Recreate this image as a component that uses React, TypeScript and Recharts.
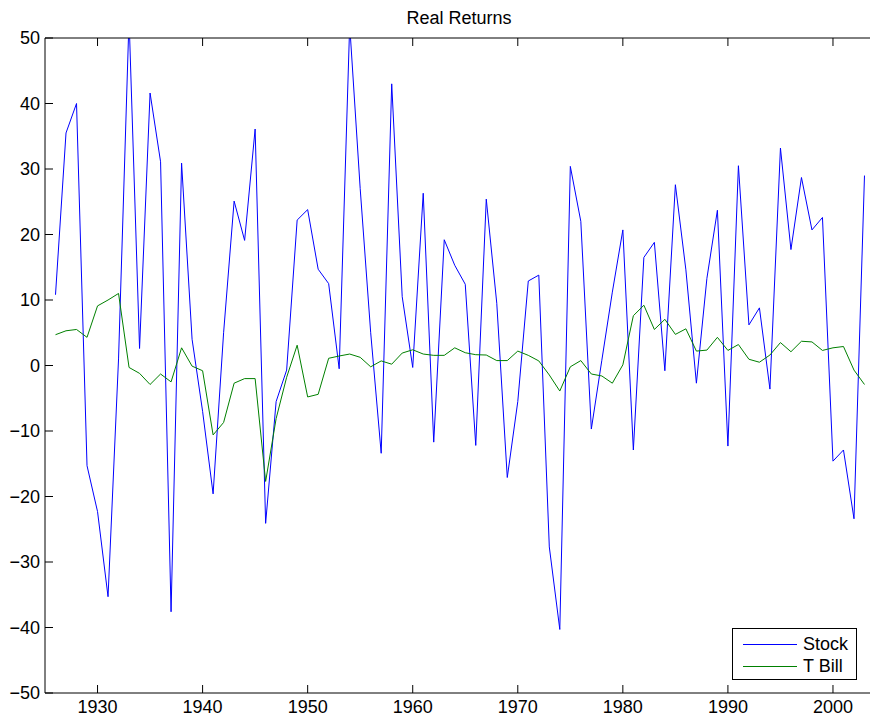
import { LineChart, Line, XAxis, YAxis, Legend } from 'recharts';

const YEARS = [
  1926, 1927, 1928, 1929, 1930, 1931, 1932, 1933, 1934, 1935,
  1936, 1937, 1938, 1939, 1940, 1941, 1942, 1943, 1944, 1945,
  1946, 1947, 1948, 1949, 1950, 1951, 1952, 1953, 1954, 1955,
  1956, 1957, 1958, 1959, 1960, 1961, 1962, 1963, 1964, 1965,
  1966, 1967, 1968, 1969, 1970, 1971, 1972, 1973, 1974, 1975,
  1976, 1977, 1978, 1979, 1980, 1981, 1982, 1983, 1984, 1985,
  1986, 1987, 1988, 1989, 1990, 1991, 1992, 1993, 1994, 1995,
  1996, 1997, 1998, 1999, 2000, 2001, 2002, 2003,
];

// real returns in percent, one value per year
const STOCK = [
  10.8, 35.5, 40.0, -15.3, -22.3, -35.3, 1.0, 53.0, 2.6, 41.6,
  31.1, -37.6, 30.9, 4.0, -7.0, -19.6, 5.0, 25.1, 19.1, 36.1,
  -24.1, -5.5, -0.7, 22.2, 23.8, 14.7, 12.5, -0.5, 52.0, 27.0,
  5.0, -13.4, 43.0, 10.5, -0.3, 26.3, -11.7, 19.2, 15.3, 12.4,
  -12.2, 25.4, 9.5, -17.1, -5.5, 12.9, 13.8, -27.7, -40.3, 30.4,
  22.0, -9.7, 0.8, 11.2, 20.7, -12.9, 16.5, 18.8, -0.8, 27.6,
  14.6, -2.7, 13.3, 23.7, -12.3, 30.5, 6.2, 8.8, -3.6, 33.2,
  17.7, 28.7, 20.7, 22.6, -14.6, -12.9, -23.4, 29.0,
];

const TBILL = [
  4.7, 5.3, 5.5, 4.3, 9.1, 10.0, 11.0, -0.3, -1.2, -2.9,
  -1.3, -2.5, 2.7, -0.1, -0.8, -10.6, -8.7, -2.7, -2.0, -2.0,
  -17.7, -8.1, -1.8, 3.1, -4.8, -4.4, 1.1, 1.45, 1.75, 1.25,
  -0.2, 0.7, 0.2, 1.9, 2.4, 1.75, 1.55, 1.55, 2.7, 1.95,
  1.65, 1.6, 0.75, 0.75, 2.2, 1.55, 0.7, -1.45, -3.9, -0.2,
  0.75, -1.3, -1.6, -2.7, 0.1, 7.6, 9.2, 5.5, 7.05, 4.75,
  5.6, 2.2, 2.35, 4.3, 2.3, 3.2, 0.95, 0.5, 1.6, 3.5,
  2.1, 3.7, 3.6, 2.3, 2.7, 2.9, -0.7, -2.9,
];

const X_TICKS = [1930, 1940, 1950, 1960, 1970, 1980, 1990, 2000];
const Y_TICKS = [-50, -40, -30, -20, -10, 0, 10, 20, 30, 40, 50];

const STOCK_COLOR = '#0000ff';
const TBILL_COLOR = '#008000';
const FONT = '"Liberation Sans", Arial, Helvetica, sans-serif';
const TICK_LEN = 8;

const rows = YEARS.map((year, i) => ({ year, stock: STOCK[i], tbill: TBILL[i] }));
const legendItems = [
  { label: 'Stock', color: STOCK_COLOR },
  { label: 'T Bill', color: TBILL_COLOR },
];

const fmtY = (v: number) => (v < 0 ? '\u2212' + Math.abs(v) : String(v));

// ticks point into the plot, like a boxed matlab axes
const BOTTOM_GAP = 7;
function BottomTick({ x, y, payload }: any) {
  const axisY = y - BOTTOM_GAP;
  return (
    <g>
      <line x1={x} x2={x} y1={axisY} y2={axisY - TICK_LEN} stroke="#000" />
      <text x={x} y={y} dy="0.71em" textAnchor="middle" fill="#000" fontSize={18} fontFamily={FONT}>
        {payload.value}
      </text>
    </g>
  );
}

const LEFT_GAP = 5;
function LeftTick({ x, y, payload }: any) {
  const axisX = x + LEFT_GAP;
  return (
    <g>
      <line x1={axisX} x2={axisX + TICK_LEN} y1={y} y2={y} stroke="#000" />
      <text x={x} y={y} dy="0.355em" textAnchor="end" fill="#000" fontSize={18} fontFamily={FONT}>
        {fmtY(payload.value)}
      </text>
    </g>
  );
}

function TopTick({ x, y }: any) {
  return <line x1={x} x2={x} y1={y} y2={y + TICK_LEN} stroke="#000" />;
}

function RightTick({ x, y }: any) {
  return <line x1={x} x2={x - TICK_LEN} y1={y} y2={y} stroke="#000" />;
}

function BoxLegend() {
  return (
    <div
      style={{
        width: 125,
        height: 52,
        boxSizing: 'border-box',
        border: '1px solid #000',
        background: '#fff',
        position: 'relative',
        fontFamily: FONT,
        fontSize: 18,
      }}
    >
      {legendItems.map((item, i) => (
        <div key={item.label} style={{ position: 'absolute', left: 0, top: 4 + i * 22, height: 22, width: '100%' }}>
          <svg width={60} height={22} style={{ position: 'absolute', left: 8, top: 0 }}>
            <line x1={2} x2={56} y1={11.5} y2={11.5} stroke={item.color} strokeWidth={1} />
          </svg>
          <span style={{ position: 'absolute', left: 70, top: 0, lineHeight: '22px', color: '#000' }}>{item.label}</span>
        </div>
      ))}
    </div>
  );
}

export default function App() {
  return (
    <div
      style={{
        position: 'absolute',
        left: 0,
        top: 0,
        width: 870,
        height: 721,
        overflow: 'hidden',
        background: '#fff',
      }}
    >
      <div
        style={{
          position: 'absolute',
          left: 0,
          top: 9,
          width: 918,
          textAlign: 'center',
          fontFamily: FONT,
          fontSize: 18,
          lineHeight: '18px',
          color: '#000',
          zIndex: 2,
        }}
      >
        Real Returns
      </div>
      <LineChart width={880} height={721} data={rows} margin={{ top: 37, right: 4, bottom: 27, left: 44 }}>
        <XAxis
          dataKey="year"
          type="number"
          domain={[1925, 2004]}
          ticks={X_TICKS}
          interval={0}
          height={1}
          tickSize={0}
          tickMargin={BOTTOM_GAP}
          axisLine={{ stroke: '#000' }}
          tickLine={false}
          tick={<BottomTick />}
        />
        <XAxis
          xAxisId="top"
          orientation="top"
          dataKey="year"
          type="number"
          domain={[1925, 2004]}
          ticks={X_TICKS}
          interval={0}
          height={1}
          tickSize={0}
          tickMargin={0}
          axisLine={{ stroke: '#000' }}
          tickLine={false}
          tick={<TopTick />}
        />
        <YAxis
          type="number"
          domain={[-50, 50]}
          ticks={Y_TICKS}
          interval={0}
          allowDataOverflow
          width={1}
          tickSize={0}
          tickMargin={LEFT_GAP}
          axisLine={{ stroke: '#000' }}
          tickLine={false}
          tick={<LeftTick />}
        />
        <YAxis
          yAxisId="right"
          orientation="right"
          type="number"
          domain={[-50, 50]}
          ticks={Y_TICKS}
          interval={0}
          width={1}
          tickSize={0}
          tickMargin={0}
          axisLine={{ stroke: '#000' }}
          tickLine={false}
          tick={<RightTick />}
        />
        <Legend
          layout="horizontal"
          verticalAlign="middle"
          align="center"
          content={<BoxLegend />}
          wrapperStyle={{ left: 732, top: 628, width: 125, height: 52 }}
        />
        <Line
          name="Stock"
          dataKey="stock"
          stroke={STOCK_COLOR}
          strokeWidth={1}
          dot={false}
          activeDot={false}
          isAnimationActive={false}
        />
        <Line
          name="T Bill"
          dataKey="tbill"
          stroke={TBILL_COLOR}
          strokeWidth={1}
          dot={false}
          activeDot={false}
          isAnimationActive={false}
        />
      </LineChart>
    </div>
  );
}
